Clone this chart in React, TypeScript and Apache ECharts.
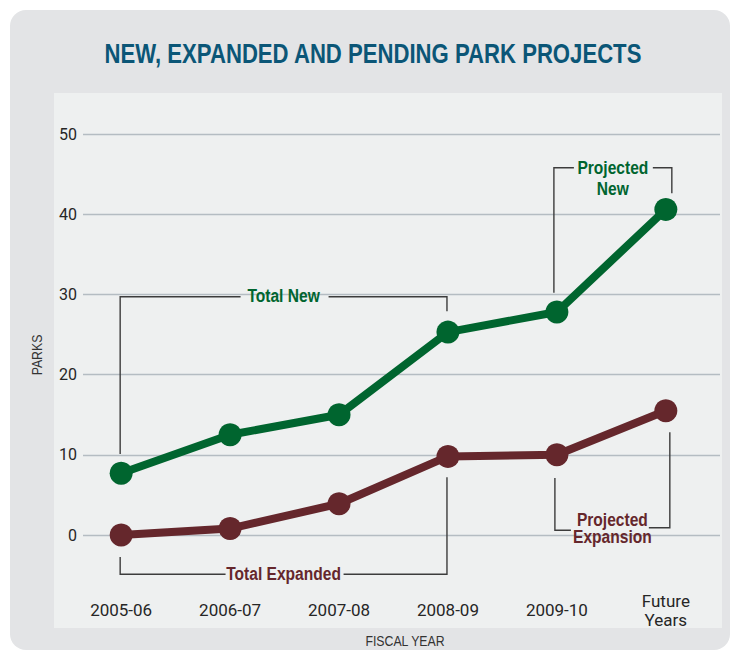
import React, { useEffect, useRef } from "react";
import * as echarts from "echarts";

const categories = ["2005-06", "2006-07", "2007-08", "2008-09", "2009-10", "Future\nYears"];
const totalNew = [7.7, 12.5, 15.0, 25.3, 27.8, 40.6];
const totalExpanded = [0, 0.8, 3.9, 9.8, 10.0, 15.5];
const yMin = 0;
const yMax = 50;
const yInterval = 10;
const titleText = "NEW, EXPANDED AND PENDING PARK PROJECTS";
const xAxisTitle = "FISCAL YEAR";
const yAxisTitle = "PARKS";
const labelTotalNew = "Total New";
const labelTotalExpanded = "Total Expanded";
const labelProjectedNew = "Projected\nNew";
const labelProjectedExpansion = "Projected\nExpansion";

const SANS = '"Liberation Sans", Arial, sans-serif';
const AXISFONT = 'Roboto, "Liberation Sans", sans-serif';
const NARROW_SCALE = 0.82;
const GREEN = "#00652f";
const MAROON = "#65272c";
const BRACKET = "#3c3c3c";

export default function App() {
  const ref = useRef<HTMLDivElement>(null);
  useEffect(() => {
    const chart = echarts.init(ref.current as HTMLDivElement, null, { renderer: "svg" });
    chart.setOption({
      animation: false,
      backgroundColor: "#ffffff",
      grid: [
        { left: 83, right: 11, top: 134, bottom: 116 },
        { left: 66.7, width: 653.6, top: 134, bottom: 116 },
      ],
      xAxis: [
        { type: "value", gridIndex: 0, show: false, min: 0, max: 1 },
        {
          type: "category",
          gridIndex: 1,
          data: categories,
          boundaryGap: true,
          axisLine: { show: false },
          axisTick: { show: false },
          axisLabel: {
            interval: 0,
            margin: 75,
            fontSize: 17,
            lineHeight: 19,
            verticalAlign: "middle",
            color: "#262626",
            fontFamily: AXISFONT,
          },
        },
      ],
      yAxis: [
        {
          type: "value",
          gridIndex: 0,
          min: yMin,
          max: yMax,
          interval: yInterval,
          axisLine: { show: false },
          axisTick: { show: false },
          axisLabel: { margin: 6, fontSize: 16, color: "#262626", fontFamily: AXISFONT },
          splitLine: { lineStyle: { color: "#b4bcc2", width: 1.3 } },
        },
        { type: "value", gridIndex: 1, min: yMin, max: yMax, interval: yInterval, show: false },
      ],
      series: [
        {
          name: "Total New",
          type: "line",
          xAxisIndex: 1,
          yAxisIndex: 1,
          data: totalNew,
          symbol: "circle",
          symbolSize: 23,
          clip: false,
          lineStyle: { color: GREEN, width: 8 },
          itemStyle: { color: GREEN },
        },
        {
          name: "Total Expanded",
          type: "line",
          xAxisIndex: 1,
          yAxisIndex: 1,
          data: totalExpanded,
          symbol: "circle",
          symbolSize: 23,
          clip: false,
          lineStyle: { color: MAROON, width: 8 },
          itemStyle: { color: MAROON },
        },
      ],
    });

    const px = (i: number, v: number) =>
      chart.convertToPixel({ xAxisIndex: 1, yAxisIndex: 1 }, [i, v]) as number[];
    const X = (i: number) => px(i, 0)[0];
    const Y = (v: number) => px(0, v)[1];

    const lineStyle = { stroke: BRACKET, lineWidth: 1.4, fill: null };
    const poly = (points: number[][]) => ({
      type: "polyline",
      shape: { points },
      style: lineStyle,
      silent: true,
    });
    const txt = (
      text: string,
      x: number,
      y: number,
      color: string,
      size: number,
      bold = true,
      lineHeight?: number
    ) => ({
      type: "text",
      x,
      y,
      scaleX: NARROW_SCALE,
      silent: true,
      style: {
        text,
        fill: color,
        fontSize: size,
        fontWeight: bold ? "bold" : "normal",
        fontFamily: SANS,
        lineHeight: lineHeight || size * 1.15,
        align: "center",
        verticalAlign: "middle",
      },
    });

    // Total New bracket
    const tnL = X(0) - 1;
    const tnR = X(3) - 1;
    const tnY = Y(29.7);
    const tnC = (tnL + tnR) / 2;
    // Total Expanded bracket
    const teY = Y(-4.9);
    // Projected New bracket
    const pnL = X(4) - 3;
    const pnR = X(5) + 6;
    const pnY = Y(45.8);
    const pnC = (pnL + pnR) / 2;
    // Projected Expansion bracket
    const peL = X(4) - 2;
    const peR = X(5) + 4;
    const peY = Y(0.9);
    const peC = (peL + peR) / 2;

    chart.setOption({
      graphic: [
        {
          type: "rect",
          z: -20,
          silent: true,
          shape: { x: 10, y: 10, width: 720, height: 640, r: 16 },
          style: { fill: "#e3e4e6" },
        },
        {
          type: "rect",
          z: -19,
          silent: true,
          shape: { x: 54, y: 93, width: 668, height: 535 },
          style: { fill: "#eef0f0" },
        },
        txt(titleText, 373, 54, "#0b5677", 27),
        txt(xAxisTitle, 405, 641, "#333333", 15, false, 15),
        {
          ...txt(yAxisTitle, 37, 355, "#333333", 15, false),
          rotation: Math.PI / 2,
        },
        // Total New
        poly([[tnL, Y(10.1)], [tnL, tnY], [tnC - 43, tnY]]),
        poly([[tnC + 45, tnY], [tnR, tnY], [tnR, Y(27.9)]]),
        txt(labelTotalNew, tnC, tnY - 1, GREEN, 19),
        // Total Expanded
        poly([[tnL, Y(-2.75)], [tnL, teY], [tnC - 58, teY]]),
        poly([[tnC + 60, teY], [tnR, teY], [tnR, Y(7.2)]]),
        txt(labelTotalExpanded, tnC, teY - 1, MAROON, 19),
        // Projected New
        poly([[pnL, Y(30.2)], [pnL, pnY], [pnL + 20, pnY]]),
        poly([[pnR - 19, pnY], [pnR, pnY], [pnR, Y(42.6)]]),
        txt(labelProjectedNew, pnC, pnY + 10.5, GREEN, 19, true, 21),
        // Projected Expansion
        poly([[peL, Y(7.1)], [peL, Y(0.6)], [peL + 16, Y(0.6)]]),
        poly([[peR - 21, peY], [peR, peY], [peR, Y(12.8)]]),
        txt(labelProjectedExpansion, peC, Y(0.85), MAROON, 19, true, 17),
      ],
    });

    return () => chart.dispose();
  }, []);
  return (
    <div
      ref={ref}
      style={{ position: "absolute", left: 0, top: 0, width: 731, height: 651 }}
    />
  );
}
